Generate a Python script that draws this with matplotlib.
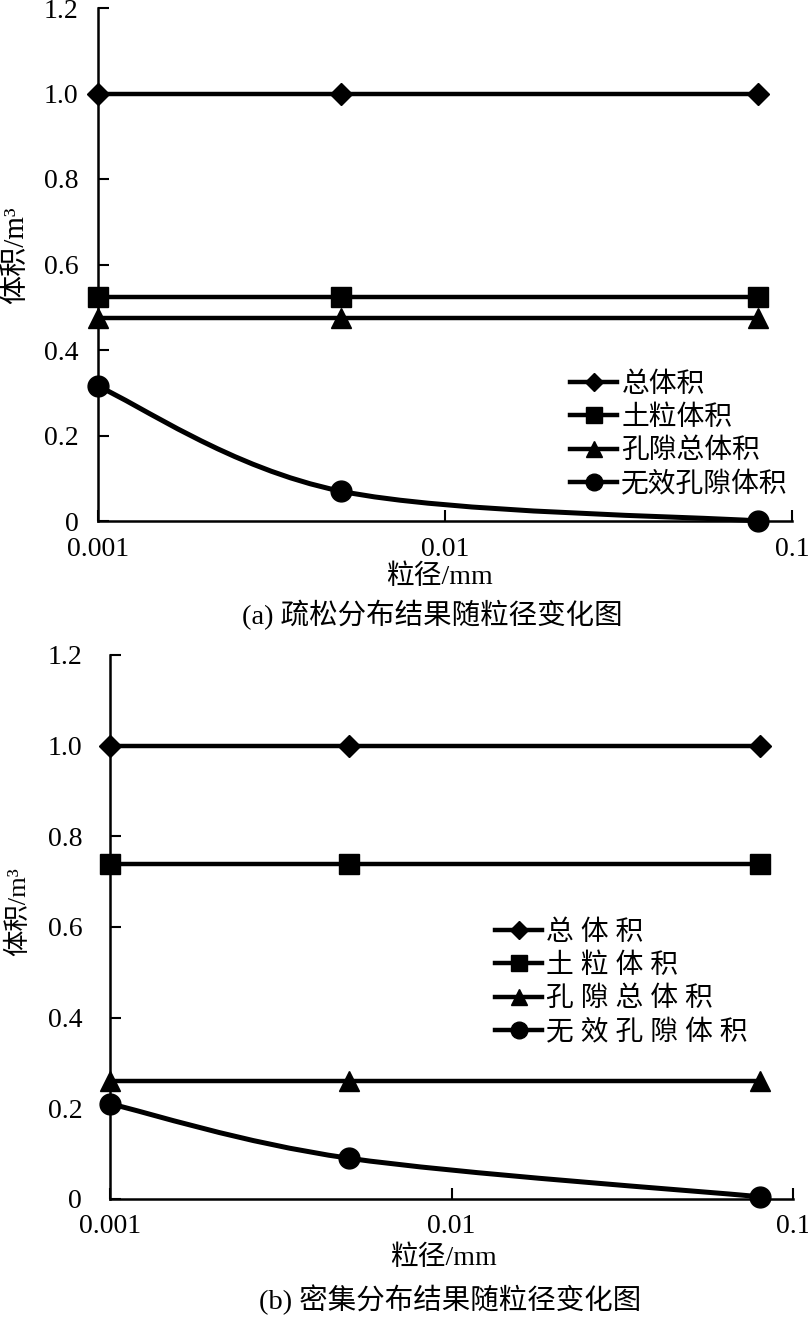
import numpy as np
import matplotlib
matplotlib.use('Agg')
import matplotlib.pyplot as plt
from matplotlib.path import Path
from matplotlib.patches import PathPatch
from matplotlib.lines import Line2D
from matplotlib.ticker import NullLocator, FixedFormatter, FixedLocator

plt.rcParams['font.family'] = ['Liberation Serif', 'Noto Sans CJK SC']

# particle size (mm)
size_mm = [0.001, 0.005, 0.08]

# (a) loose distribution
loose_total = [1.0, 1.0, 1.0]
loose_soil = [0.525, 0.525, 0.525]
loose_pore = [0.475, 0.475, 0.475]
loose_invalid = [0.315, 0.07, 0.0]

# (b) dense distribution
dense_total = [1.0, 1.0, 1.0]
dense_soil = [0.74, 0.74, 0.74]
dense_pore = [0.26, 0.26, 0.26]
dense_invalid = [0.21, 0.09, 0.005]

series_names = ['总体积', '土粒体积', '孔隙总体积', '无效孔隙体积']
xticks = [0.001, 0.01, 0.1]
xtick_labels = ['0.001', '0.01', '0.1']
yticks = [0, 0.2, 0.4, 0.6, 0.8, 1.0, 1.2]
ytick_labels = ['0', '0.2', '0.4', '0.6', '0.8', '1.0', '1.2']

W, H = 808, 1320
fig = plt.figure(figsize=(W / 100, H / 100), dpi=100)


def smooth_path(x, y):
    # Excel-like smoothed line: cubic bezier built in (log x, y) space
    lx = np.log10(x)
    pts = np.column_stack([lx, y])
    n = len(pts)
    verts = [pts[0]]
    codes = [Path.MOVETO]
    for i in range(n - 1):
        p_prev = pts[max(i - 1, 0)]
        p0 = pts[i]
        p1 = pts[i + 1]
        p_next = pts[min(i + 2, n - 1)]
        c1 = p0 + (p1 - p_prev) / 6.0
        c2 = p1 - (p_next - p0) / 6.0
        verts += [c1, c2, p1]
        codes += [Path.CURVE4] * 3
    verts = np.array(verts)
    verts[:, 0] = 10 ** verts[:, 0]
    return Path(verts, codes)


def draw_panel(rect, total, soil, pore, invalid, names, leg_xy, xlab_xy, cap_xy,
               ylab_xy, caption, ypad, xpad, ylab_size):
    ax = fig.add_axes(rect)
    ax.set_xscale('log')
    lw = 3.2
    ax.plot(size_mm, total, color='black', lw=lw, marker='D', ms=11, clip_on=False)
    ax.plot(size_mm, soil, color='black', lw=lw, marker='s', ms=14, clip_on=False)
    ax.plot(size_mm, pore, color='black', lw=lw, marker='^', ms=14, clip_on=False)
    ax.add_patch(PathPatch(smooth_path(size_mm, invalid), facecolor='none',
                           edgecolor='black', lw=3.6, clip_on=False))
    ax.plot(size_mm, invalid, color='black', ls='none', marker='o', ms=15, clip_on=False)

    ax.set_xlim(0.001, 0.1)
    ax.set_ylim(0, 1.2)
    ax.xaxis.set_major_locator(FixedLocator(xticks))
    ax.xaxis.set_major_formatter(FixedFormatter(xtick_labels))
    ax.xaxis.set_minor_locator(NullLocator())
    ax.set_yticks(yticks)
    ax.set_yticklabels(ytick_labels)
    ax.tick_params(direction='in', length=8, width=1.5, labelsize=20)
    ax.tick_params(axis='y', pad=ypad)
    ax.tick_params(axis='x', pad=xpad)
    for s in ['top', 'right']:
        ax.spines[s].set_visible(False)
    for s in ['left', 'bottom']:
        ax.spines[s].set_linewidth(1.8)

    handles = [
        Line2D([], [], color='black', lw=lw, marker='D', ms=9),
        Line2D([], [], color='black', lw=lw, marker='s', ms=11),
        Line2D([], [], color='black', lw=lw, marker='^', ms=11),
        Line2D([], [], color='black', lw=lw, marker='o', ms=12),
    ]
    fig.legend(handles, names, loc='upper left',
               bbox_to_anchor=(leg_xy[0] / W, 1 - leg_xy[1] / H),
               bbox_transform=fig.transFigure, frameon=False, fontsize=20,
               handlelength=1.7, handletextpad=0.15, labelspacing=0.28,
               borderpad=0, borderaxespad=0)

    fig.text(xlab_xy[0] / W, 1 - xlab_xy[1] / H, '粒径/mm', fontsize=20,
             ha='center', va='center')
    fig.text(cap_xy[0] / W, 1 - cap_xy[1] / H, caption, fontsize=20.5,
             ha='center', va='center')
    fig.text(ylab_xy[0] / W, 1 - ylab_xy[1] / H, '体积/m³', fontsize=ylab_size,
             ha='center', va='center', rotation=90)
    return ax


draw_panel([98 / W, 1 - 521 / H, (792 - 98) / W, (521 - 8) / H],
           loose_total, loose_soil, loose_pore, loose_invalid,
           series_names, (570, 372), (439, 577), (432, 615), (16, 255),
           '(a) 疏松分布结果随粒径变化图', 14, 11.5, 21)

spaced = [' '.join(n) for n in series_names]
draw_panel([110 / W, 1 - 1199 / H, (793 - 110) / W, (1199 - 655) / H],
           dense_total, dense_soil, dense_pore, dense_invalid,
           spaced, (495, 920), (443, 1258), (450, 1300), (18, 912),
           '(b) 密集分布结果随粒径变化图', 20, 10.5, 19)

fig.savefig('out.png', dpi=100)
